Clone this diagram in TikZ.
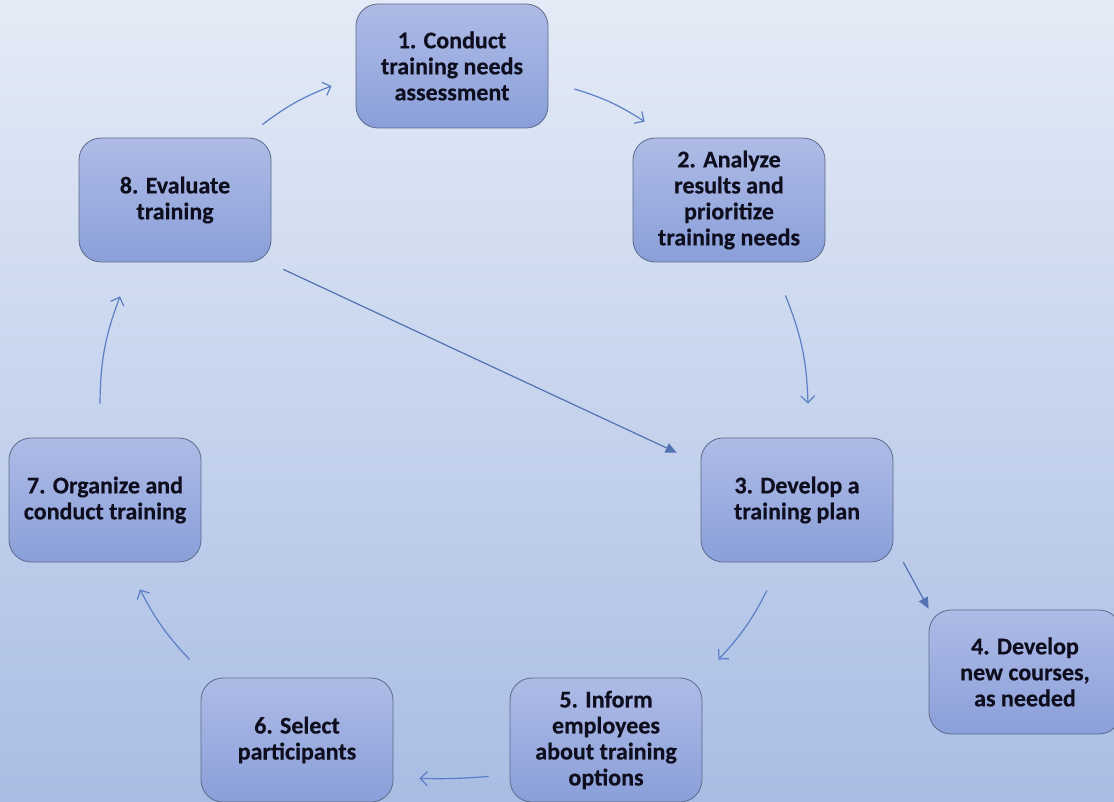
\documentclass[tikz,border=0pt]{standalone}
\usepackage{fontspec}
\setmainfont{Carlito}[BoldFeatures={FakeBold=0.4}]
\usetikzlibrary{arrows.meta}
\usetikzlibrary{shapes}

\definecolor{bgTop}{HTML}{E4EBF6}
\definecolor{bgBottom}{HTML}{A9BDE4}
\definecolor{boxTop}{HTML}{AEBBE6}
\definecolor{boxBottom}{HTML}{8A9FD9}
\definecolor{boxLine}{HTML}{5C6A8C}
\definecolor{flowLine}{HTML}{5B7FC6}
\definecolor{textInk}{HTML}{0E0E1E}

\begin{document}
\begin{tikzpicture}[x = 1pt, y = -1pt, font=\bfseries\fontsize{24}{26}\selectfont]
	\tikzstyle{boxStyle}=[rectangle, rounded corners = 22pt, minimum width = 192pt, minimum height = 124pt, inner sep = 2pt, draw = boxLine, line width = 0.8pt, top color = boxTop, bottom color = boxBottom, text = textInk, align = center]
	\tikzstyle{cycleStyle}=[draw = flowLine, line width = 1.2pt, -{Straight Barb[length = 7pt, width = 14pt]}]
	\tikzstyle{jumpStyle}=[draw = flowLine!90!black, line width = 1.2pt, -{Triangle[length = 11pt, width = 10pt]}]
	\clip (0,0) rectangle (1114,802);
	\shade[top color = bgTop, bottom color = bgBottom] (0,0) rectangle (1114,802);
	\node[boxStyle] (s1) at (452,66) {1. Conduct\\training needs\\assessment};
	\node[boxStyle] (s2) at (729,200) {2. Analyze\\results and\\prioritize\\training needs};
	\node[boxStyle] (s3) at (797,500) {3. Develop a\\training plan};
	\node[boxStyle] (s4) at (1025,672) {4. Develop\\new courses,\\as needed};
	\node[boxStyle] (s5) at (606,740) {5. Inform\\employees\\about training\\options};
	\node[boxStyle] (s6) at (297,740) {6. Select\\participants};
	\node[boxStyle] (s7) at (105,500) {7. Organize and\\conduct training};
	\node[boxStyle] (s8) at (175,200) {8. Evaluate\\training};
	\draw[cycleStyle] ([shift={(-9,-13)}]s8.north east) to[bend left = 8] ([shift={(-24,20)}]s1.west);
	\draw[cycleStyle] ([shift={(26,23)}]s1.east) to[bend left = 8] ([shift={(12,-16)}]s2.north west);
	\draw[cycleStyle] ([shift={(-40,33)}]s2.south east) to[bend left = 10] ([shift={(11,-34)}]s3.north);
	\draw[cycleStyle] ([shift={(-30,28)}]s3.south) to[bend left = 8] ([shift={(16,-18)}]s5.north east);
	\draw[cycleStyle] ([shift={(-21,-26)}]s5.south west) to[bend left = 3] ([shift={(26,-24)}]s6.south east);
	\draw[cycleStyle] ([shift={(-11,-18)}]s6.north west) to[bend left = 8] ([shift={(35,27)}]s7.south);
	\draw[cycleStyle] ([shift={(-5,-34)}]s7.north) to[bend left = 10] ([shift={(-55,34)}]s8.south);
	\draw[jumpStyle] ([shift={(12,7)}]s8.south east) -- ([shift={(-24,15)}]s3.north west);
	\draw[jumpStyle] ([shift={(10,0)}]s3.south east) -- ([shift={(0,-1)}]s4.north west);
\end{tikzpicture}
\end{document}
